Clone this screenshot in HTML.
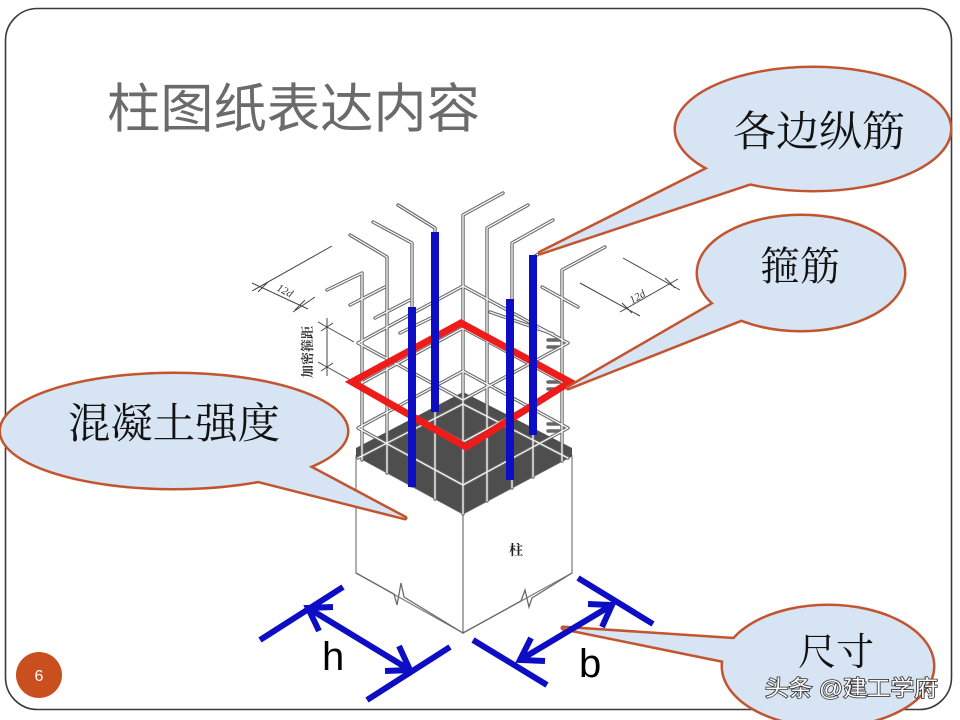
<!DOCTYPE html>
<html><head><meta charset="utf-8"><style>
html,body{margin:0;padding:0;background:#fff;}
svg{display:block;}
</style></head><body>
<svg width="960" height="720" viewBox="0 0 960 720" xmlns="http://www.w3.org/2000/svg">
<rect width="960" height="720" fill="#fff"/>
<!-- slide border -->
<rect x="5.5" y="8.5" width="946" height="701" rx="32" ry="32" fill="none" stroke="#3a3a3a" stroke-width="1.6"/>

<!-- title -->
<text x="107" y="127" font-family="'Liberation Sans','Noto Sans CJK SC',sans-serif" font-size="53" fill="#6b6b6b" textLength="373" lengthAdjust="spacingAndGlyphs">柱图纸表达内容</text>

<!-- column box -->
<polygon points="356,456 463,514 463,633 356,573" fill="#fff" stroke="#7a7a7a" stroke-width="1.2"/>
<polygon points="463,514 572,456 572,573 463,633" fill="#fff" stroke="#7a7a7a" stroke-width="1.2"/>
<!-- bottom zigzag breaks -->
<path d="M356,573 L394,594 L397,605 L401,583 L404,597 L463,633 L521,601 L525,590 L529,607 L532,598 L572,573" fill="none" stroke="#6a6a6a" stroke-width="1.3"/>
<!-- dark concrete top -->
<polygon points="356,448 463,392 572,448 572,456 463,514 356,456" fill="#4e4e4e"/>
<text x="509" y="555" font-family="'Liberation Serif','Noto Serif CJK SC',serif" font-size="14" font-weight="bold" fill="#222">柱</text>

<!-- rebars (double line look) -->
<g fill="none" stroke-linecap="round" stroke-linejoin="round">
<g id="bars" stroke="#666" stroke-width="3.4">
<path d="M327,290 L362,273 L362,460"/>
<path d="M350,235 L387,257 L387,473"/>
<path d="M373,222 L412,243 L412,486"/>
<path d="M398,205 L435,228 L435,499"/>
<path d="M503,193 L463,215 L463,514"/>
<path d="M528,205 L487,228 L487,501"/>
<path d="M553,220 L512,243 L512,488"/>
<path d="M578,233 L533,257 L533,477"/>
<path d="M605,247 L562,270 L562,461"/>
<path d="M350,305 L385,287"/>
<path d="M375,318 L410,300"/>
<path d="M400,333 L433,317"/>
<path d="M542,287 L578,307"/>
<path d="M490,312 L553,334"/>
<path d="M358,343 L463,286 L568,343 L463,400 Z"/>
<path d="M358,385 L463,328 L568,385 L463,442 Z"/>
<path d="M358,428 L463,371 L568,428 L463,485 Z"/>
<path d="M358,458 L463,404 L568,458"/>
<path d="M548,340 L562,340 M548,347 L562,347 M548,382 L562,382 M548,389 L562,389 M548,424 L562,424 M548,431 L562,431"/>
</g>
<g stroke="#f6f6f6" stroke-width="1.3">
<path d="M327,290 L362,273 L362,460"/>
<path d="M350,235 L387,257 L387,473"/>
<path d="M373,222 L412,243 L412,486"/>
<path d="M398,205 L435,228 L435,499"/>
<path d="M503,193 L463,215 L463,514"/>
<path d="M528,205 L487,228 L487,501"/>
<path d="M553,220 L512,243 L512,488"/>
<path d="M578,233 L533,257 L533,477"/>
<path d="M605,247 L562,270 L562,461"/>
<path d="M350,305 L385,287"/>
<path d="M375,318 L410,300"/>
<path d="M400,333 L433,317"/>
<path d="M542,287 L578,307"/>
<path d="M490,312 L553,334"/>
<path d="M358,343 L463,286 L568,343 L463,400 Z"/>
<path d="M358,385 L463,328 L568,385 L463,442 Z"/>
<path d="M358,428 L463,371 L568,428 L463,485 Z"/>
<path d="M358,458 L463,404 L568,458"/>
</g>
</g>

<!-- dimension annotations (thin) -->
<g stroke="#444" stroke-width="1" fill="none">
<path d="M252,291 L332,246"/>
<path d="M252,283 L308,309"/>
<path d="M293,312 L315,297"/>
<path d="M258,292 L268,282 M295,310 L305,300"/>
<path d="M623,258 L680,290"/>
<path d="M580,283 L640,316"/>
<path d="M620,312 L678,279"/>
<path d="M622,303 L632,313 M665,278 L675,288"/>
<path d="M327,318 L327,376"/>
<path d="M321,331 L333,323 M321,371 L333,363"/>
<path d="M318,322 L354,342 M318,362 L354,382"/>
</g>
<text transform="translate(276,290) rotate(28)" font-family="'Liberation Serif',serif" font-style="italic" font-size="11" fill="#333">12d</text>
<text transform="translate(632,304) rotate(-30)" font-family="'Liberation Serif',serif" font-style="italic" font-size="11" fill="#333">12d</text>
<text transform="translate(312,352) rotate(-90)" text-anchor="middle" font-family="'Liberation Serif','Noto Serif CJK SC',serif" font-weight="bold" font-size="13" fill="#333">加密箍距</text>

<!-- red stirrup highlight -->
<polygon points="352,382 461,323 570,382 466,447" fill="none" stroke="#ee1b1b" stroke-width="7" stroke-linejoin="miter"/>

<!-- blue longitudinal bars -->
<g fill="#0d0dc4">
<rect x="408" y="307" width="8" height="180"/>
<rect x="431" y="232" width="8" height="180"/>
<rect x="506" y="299" width="8" height="181"/>
<rect x="529" y="255" width="8" height="180"/>
</g>

<!-- callouts: strokes layer -->
<g fill="none" stroke="#c2552f" stroke-width="5" stroke-linejoin="round">
<ellipse cx="813" cy="129" rx="137" ry="61"/>
<polygon points="715,165 760,180 540,253"/>
<ellipse cx="801" cy="273" rx="103" ry="57"/>
<polygon points="720,300 745,318 568,388"/>
<ellipse cx="174" cy="431" rx="173" ry="57"/>
<polygon points="300,462 255,480 405,518"/>
<ellipse cx="828" cy="666" rx="105" ry="60"/>
<polygon points="745,640 730,662 563,628"/>
</g>
<!-- callouts: fill layer -->
<g fill="#d6e4f3" stroke="none">
<ellipse cx="813" cy="129" rx="137" ry="61"/>
<polygon points="715,165 760,180 540,253"/>
<ellipse cx="801" cy="273" rx="103" ry="57"/>
<polygon points="720,300 745,318 568,388"/>
<ellipse cx="174" cy="431" rx="173" ry="57"/>
<polygon points="300,462 255,480 405,518"/>
<ellipse cx="828" cy="666" rx="105" ry="60"/>
<polygon points="745,640 730,662 563,628"/>
</g>
<g font-family="'Liberation Serif','Noto Serif CJK SC',serif" fill="#111">
<text x="733" y="146" font-size="42" textLength="172" lengthAdjust="spacingAndGlyphs">各边纵筋</text>
<text x="760" y="280" font-size="40">箍筋</text>
<text x="68" y="438" font-size="42" textLength="212" lengthAdjust="spacingAndGlyphs">混凝土强度</text>
<text x="798" y="665" font-size="38">尺寸</text>
</g>

<!-- blue dimension arrows -->
<g stroke="#0d0dc4" stroke-width="6" fill="none" stroke-linecap="butt">
<path d="M260,640 L343,587"/>
<path d="M367,700 L450,647"/>
<path d="M308,608 L410,670"/>
<path d="M319,631 L308,608 L333,607"/>
<path d="M399,646 L410,670 L385,671"/>
<path d="M473,640 L547,685"/>
<path d="M578,578 L653,624"/>
<path d="M520,660 L612,605"/>
<path d="M588,604 L612,605 L602,627"/>
<path d="M545,661 L520,660 L531,638"/>
</g>
<text x="322" y="670" font-family="'Liberation Sans',sans-serif" font-size="40" fill="#000">h</text>
<text x="579" y="677" font-family="'Liberation Sans',sans-serif" font-size="40" fill="#000">b</text>

<!-- watermark -->
<text x="765" y="696" font-family="'Liberation Sans','Noto Sans CJK SC',sans-serif" font-size="22" fill="#fff" stroke="#333" stroke-width="1.6" paint-order="stroke" textLength="173" lengthAdjust="spacingAndGlyphs">头条 @建工学府</text>

<!-- page number -->
<circle cx="39" cy="675" r="23" fill="#c94f1e"/>
<text x="39" y="681" text-anchor="middle" font-family="'Liberation Sans',sans-serif" font-size="16" fill="#fff">6</text>
</svg>
</body></html>
